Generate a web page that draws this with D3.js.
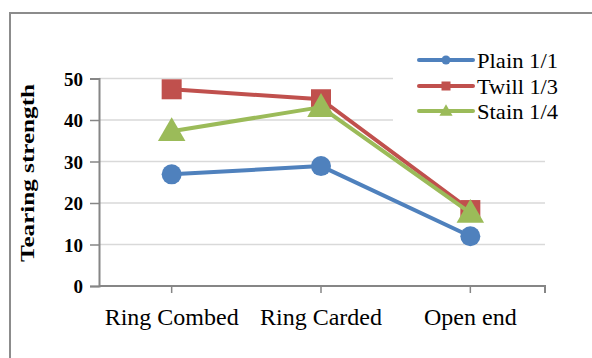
<!DOCTYPE html>
<html><head><meta charset="utf-8">
<script src="https://cdn.jsdelivr.net/npm/d3@7"></script>
<style>body{margin:0;background:#fff}svg{display:block}svg text{font-family:"Liberation Serif","DejaVu Serif","Times New Roman",serif !important;fill:#000}</style>
</head><body><svg id="c" width="592" height="358"></svg>
<script>
const categories = ["Ring Combed", "Ring Carded", "Open end"];
const plain = [26.9, 28.9, 12.0];
const twill = [47.4, 45.0, 18.3];
const stain = [37.3, 43.1, 17.6];
const seriesNames = ["Plain 1/1", "Twill 1/3", "Stain 1/4"];
const yTicks = [0, 10, 20, 30, 40, 50];
const yTitle = "Tearing strength";

const series = [
  {name: seriesNames[0], values: plain, color: "#4F81BD", shape: "circle"},
  {name: seriesNames[1], values: twill, color: "#C0504D", shape: "square"},
  {name: seriesNames[2], values: stain, color: "#9BBB59", shape: "triangle"}
];

const svg = d3.select("#c");
svg.append("rect").attr("x", 10).attr("y", 13).attr("width", 640).attr("height", 400)
  .attr("fill", "#fff").attr("stroke", "#8c8c8c").attr("stroke-width", 2);

const x = d3.scaleBand().domain(categories).range([97, 545]).padding(0);
const y = d3.scaleLinear().domain([0, 50]).range([286, 78.5]);
const cx = c => x(c) + x.bandwidth() / 2;

svg.append("g").selectAll("line").data(yTicks.filter(t => t > 0)).join("line")
  .attr("x1", 99).attr("x2", 545).attr("y1", d => y(d)).attr("y2", d => y(d))
  .attr("stroke", "#d9d9d9").attr("stroke-width", 1.5);

const yAxis = svg.append("g").attr("transform", "translate(99,0)")
  .call(d3.axisLeft(y).tickValues(yTicks).tickSize(9).tickPadding(7));
yAxis.attr("font-family", null);
yAxis.select(".domain").attr("stroke", "#868686").attr("stroke-width", 2);
yAxis.selectAll(".tick line").attr("stroke", "#868686").attr("stroke-width", 1.5);
yAxis.selectAll(".tick text").attr("font-size", 19).attr("font-weight", "bold")
  .attr("fill", "#222").attr("dy", "0.36em");

const xAxis = svg.append("g").attr("transform", "translate(0,286)")
  .call(d3.axisBottom(x).tickSize(7).tickPadding(15));
xAxis.attr("font-family", null);
xAxis.select(".domain").attr("d", "M99,0H545V7").attr("stroke", "#868686").attr("stroke-width", 2);
xAxis.selectAll(".tick line").attr("stroke", "#868686").attr("stroke-width", 1.5);
xAxis.selectAll(".tick text").attr("font-size", 24).attr("fill", "#111").attr("dy", "0.71em");

svg.append("text").attr("transform", "translate(34,173) rotate(-90)")
  .attr("text-anchor", "middle").attr("font-size", 19).attr("font-weight", "bold")
  .attr("textLength", 178).attr("lengthAdjust", "spacingAndGlyphs").text(yTitle);

svg.append("rect").attr("x", 393).attr("y", 45).attr("width", 190).attr("height", 82).attr("fill", "#fff");

const tri = d3.symbol().type(d3.symbolTriangle);
function marker(g, s, px, py, size) {
  if (s.shape === "circle") g.append("circle").attr("cx", px).attr("cy", py).attr("r", size / 2).attr("fill", s.color);
  else if (s.shape === "square") g.append("rect").attr("x", px - size / 2).attr("y", py - size / 2)
    .attr("width", size).attr("height", size).attr("fill", s.color);
  else g.append("path").attr("d", tri.size(size * size * 0.62)()).attr("transform", `translate(${px},${py + size*0.08})`).attr("fill", s.color);
}

const line = d3.line().x((d, i) => cx(categories[i])).y(d => y(d));
series.forEach(s => {
  const g = svg.append("g");
  g.append("path").attr("d", line(s.values)).attr("fill", "none").attr("stroke", s.color)
    .attr("stroke-width", 4).attr("stroke-linejoin", "round");
  s.values.forEach((v, i) => marker(g, s, cx(categories[i]), y(v), s.shape === "triangle" ? 23 : 20));
});

const legRows = [60, 86, 111];
series.forEach((s, i) => {
  const g = svg.append("g");
  g.append("line").attr("x1", 419).attr("x2", 473).attr("y1", legRows[i]).attr("y2", legRows[i])
    .attr("stroke", s.color).attr("stroke-width", 4).attr("stroke-linecap", "round");
  marker(g, s, 446, legRows[i], s.shape === "triangle" ? 11 : 9);
  g.append("text").attr("x", 477).attr("y", legRows[i]).attr("dy", "0.35em")
    .attr("font-size", 22).attr("textLength", 81).attr("lengthAdjust", "spacingAndGlyphs").text(s.name);
});
</script></body></html>
